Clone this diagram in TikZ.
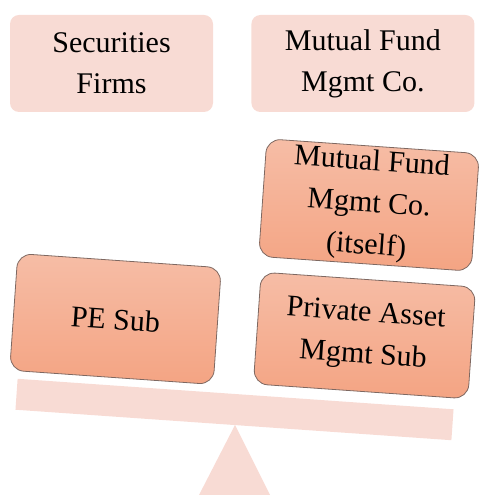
\documentclass[tikz,border=0pt]{standalone}
\usepackage{fontspec}
\setmainfont{Liberation Serif}
\usepackage{xcolor}
\usepackage{tikz}
\usetikzlibrary{positioning}

\definecolor{paleBox}{HTML}{F8DBD4}
\definecolor{subTop}{HTML}{F6BDA6}
\definecolor{subBottom}{HTML}{F4A483}
\definecolor{subEdge}{HTML}{7E6861}

\begin{document}
\begin{tikzpicture}[x=1pt, y=1pt,
    topbox/.style={rectangle, rounded corners=9pt, fill=paleBox, minimum height=97pt, align=center, font=\fontsize{30}{41}\selectfont},
    subbox/.style={rectangle, rounded corners=14pt, draw=subEdge, line width=0.8pt, top color=subTop, bottom color=subBottom, rotate=-4, align=center, font=\fontsize{30}{42}\selectfont}]
    \useasboundingbox (0,0) rectangle (481,495);
    % top row
    \node[topbox, minimum width=203pt] (secfirms) at (111.5,431.5) {Securities\\Firms};
    \node[topbox, minimum width=223pt, right=38pt of secfirms] (mfmgmt) {Mutual Fund\\Mgmt Co.};
    % balance
    \node[rectangle, fill=paleBox, minimum width=437pt, minimum height=31pt, rotate=-4, inner sep=0pt] (beam) at (234.5,85.5) {};
    \coordinate (apex) at (235,70);
    \fill[paleBox] (apex) -- (270,0) -- (199,0) -- cycle;
    % weights
    \node[subbox, minimum width=204pt, minimum height=117pt] (pesub) at (115.5,176) {PE Sub};
    \node[subbox, minimum width=215pt, minimum height=112pt] (pamsub) at (364.5,159.5) {Private Asset\\Mgmt Sub};
    \node[subbox, minimum width=213pt, minimum height=117pt] (mfitself) at (369,290) {Mutual Fund\\Mgmt Co.\\(itself)};
\end{tikzpicture}
\end{document}
